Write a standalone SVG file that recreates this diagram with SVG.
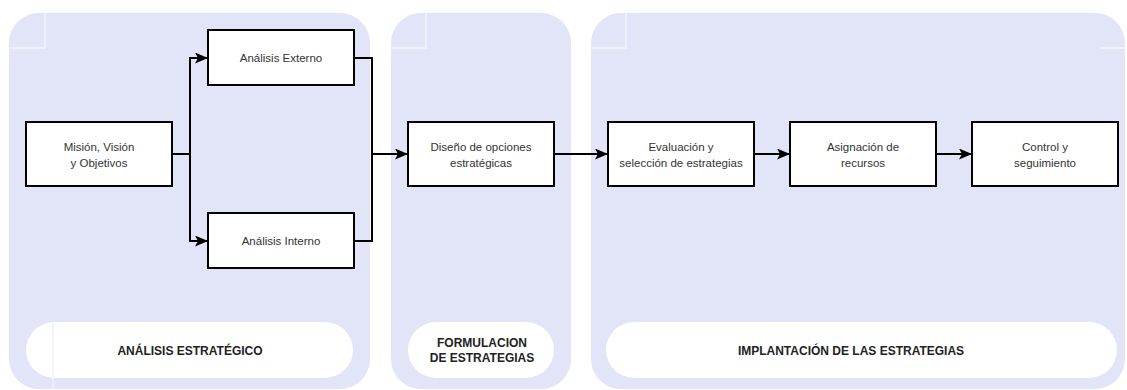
<svg xmlns="http://www.w3.org/2000/svg" width="1127" height="390" viewBox="0 0 1127 390">
<style>
.panel{fill:#E2E4F7}
.pill{fill:#FFFFFF}
.box{fill:#FFFFFF;stroke:#000;stroke-width:2}
.t{font-family:"Liberation Sans",Arial,sans-serif;font-size:11.5px;fill:#333;text-anchor:middle}
.h{font-family:"Liberation Sans",Arial,sans-serif;font-size:12px;font-weight:bold;fill:#222;text-anchor:middle}
.c{fill:none;stroke:#000;stroke-width:2}
.faint{stroke:#F2F3FC;stroke-width:1.5;fill:none}
</style>
<defs>
<marker id="ah" viewBox="0 0 13 11" refX="12" refY="5.5" markerWidth="13" markerHeight="11" markerUnits="userSpaceOnUse" orient="auto">
<path d="M0,0 L13,5.5 L0,11 L3,5.5 Z" fill="#000"/>
</marker>
</defs>
<rect width="1127" height="390" fill="#FFFFFF"/>
<g id="panel-analisis">
<rect class="panel" x="9" y="13" width="361" height="376" rx="30"/>
<path class="faint" d="M9,48 H45 V13"/>
<rect class="pill" x="26" y="322" width="327" height="56" rx="28"/>
<line class="faint" x1="53" y1="322" x2="53" y2="389" stroke="#EDEEF8"/>
<text class="h" x="190" y="355">ANÁLISIS  ESTRATÉGICO</text>
</g>
<g id="panel-formulacion">
<rect class="panel" x="391" y="13" width="180" height="376" rx="30"/>
<path class="faint" d="M391,48 H426 V13"/>
<rect class="pill" x="408" y="322" width="146" height="56" rx="28"/>
<text class="h" x="482" y="347">FORMULACION</text>
<text class="h" x="482" y="362">DE ESTRATEGIAS</text>
</g>
<g id="panel-implantacion">
<rect class="panel" x="591" y="13" width="534" height="376" rx="30"/>
<path class="faint" d="M591,48 H626 V13 M1100,48 H1125"/>
<rect class="pill" x="606" y="322" width="511" height="56" rx="28"/>
<text class="h" x="851" y="355">IMPLANTACIÓN DE LAS ESTRATEGIAS</text>
</g>
<g id="connectors">
<path class="c" d="M172,154 H190 V58 H207" marker-end="url(#ah)"/>
<path class="c" d="M190,154 V241 H207" marker-end="url(#ah)"/>
<path class="c" d="M354,58 H372 V241 H354"/>
<path class="c" d="M372,154 H407" marker-end="url(#ah)"/>
<path class="c" d="M554,154 H607" marker-end="url(#ah)"/>
<path class="c" d="M754,154 H789" marker-end="url(#ah)"/>
<path class="c" d="M936,154 H971" marker-end="url(#ah)"/>
</g>
<g id="node-mision">
<rect class="box" x="26" y="122" width="146" height="64"/>
<text class="t" x="99" y="151">Misión, Visión</text>
<text class="t" x="99" y="167">y Objetivos</text>
</g>
<g id="node-externo">
<rect class="box" x="208" y="30" width="146" height="55"/>
<text class="t" x="281" y="62">Análisis Externo</text>
</g>
<g id="node-interno">
<rect class="box" x="208" y="213" width="146" height="55"/>
<text class="t" x="281" y="245">Análisis Interno</text>
</g>
<g id="node-diseno">
<rect class="box" x="408" y="122" width="146" height="64"/>
<text class="t" x="481" y="151">Diseño de opciones</text>
<text class="t" x="481" y="167">estratégicas</text>
</g>
<g id="node-evaluacion">
<rect class="box" x="608" y="122" width="146" height="64"/>
<text class="t" x="681" y="151">Evaluación y</text>
<text class="t" x="681" y="167">selección de estrategias</text>
</g>
<g id="node-asignacion">
<rect class="box" x="790" y="122" width="146" height="64"/>
<text class="t" x="863" y="151">Asignación de</text>
<text class="t" x="863" y="167">recursos</text>
</g>
<g id="node-control">
<rect class="box" x="972" y="122" width="146" height="64"/>
<text class="t" x="1045" y="151">Control y</text>
<text class="t" x="1045" y="167">seguimiento</text>
</g>
</svg>
